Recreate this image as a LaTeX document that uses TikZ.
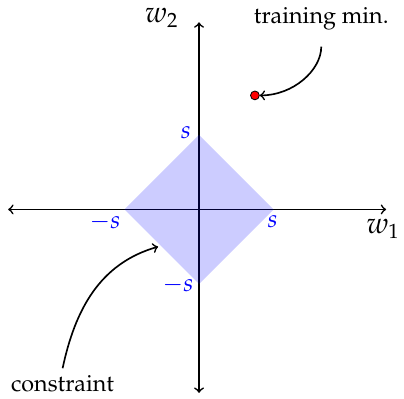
\documentclass[tikz,border=0pt]{standalone}
\usepackage[T1]{fontenc}
\usepackage{mathpazo}
\usepackage{tikz}

\tikzset{
  axislabel/.style={font=\Large},
  bound/.style={text=blue, font=\large},
  caption/.style={font=\fontsize{11.3}{13}\selectfont},
}

\begin{document}
\begin{tikzpicture}[x=1.27cm, y=1.27cm]
  \useasboundingbox (-2.67,-2.54) rectangle (2.75,2.81);
  % Axes
  \coordinate (xl) at (-2.56,0);
  \coordinate (xr) at (2.51,0);
  \coordinate (yb) at (0,-2.46);
  \coordinate (yt) at (0,2.51);
  \draw[<->, thick] (xl) -- (xr);
  \draw[<->, thick] (yb) -- (yt);
  \node[axislabel] (w1) at (2.47,-0.26) {$w_1$};
  \node[axislabel] (w2) at (-0.50,2.57) {$w_2$};

  % Constraint region
  \fill[blue, fill opacity=0.2] (1,0) -- (0,1) -- (-1,0) -- (0,-1) -- cycle;
  \node[bound] (sr) at (0.99,-0.16) {$s$};
  \node[bound] (st) at (-0.175,1.03) {$s$};
  \node[bound] (sl) at (-1.26,-0.175) {$-s$};
  \node[bound] (sb) at (-0.28,-1.02) {$-s$};

  % Training minimum
  \node[circle, draw, fill=red, inner sep=0pt, minimum size=0.15cm] (dot) at (0.75,1.53) {};
  \node[caption] (tmin) at (1.64,2.56) {training min.};
  \draw[->, thick, shorten <=1.6mm] (tmin.south) to[out=-90, in=0] (dot.east);

  % Constraint label
  \coordinate (edge) at (-0.55,-0.50);
  \node[caption] (cons) at (-1.83,-2.34) {constraint};
  \draw[->, thick] (cons.north) to[out=78, in=196] (edge);
\end{tikzpicture}
\end{document}
